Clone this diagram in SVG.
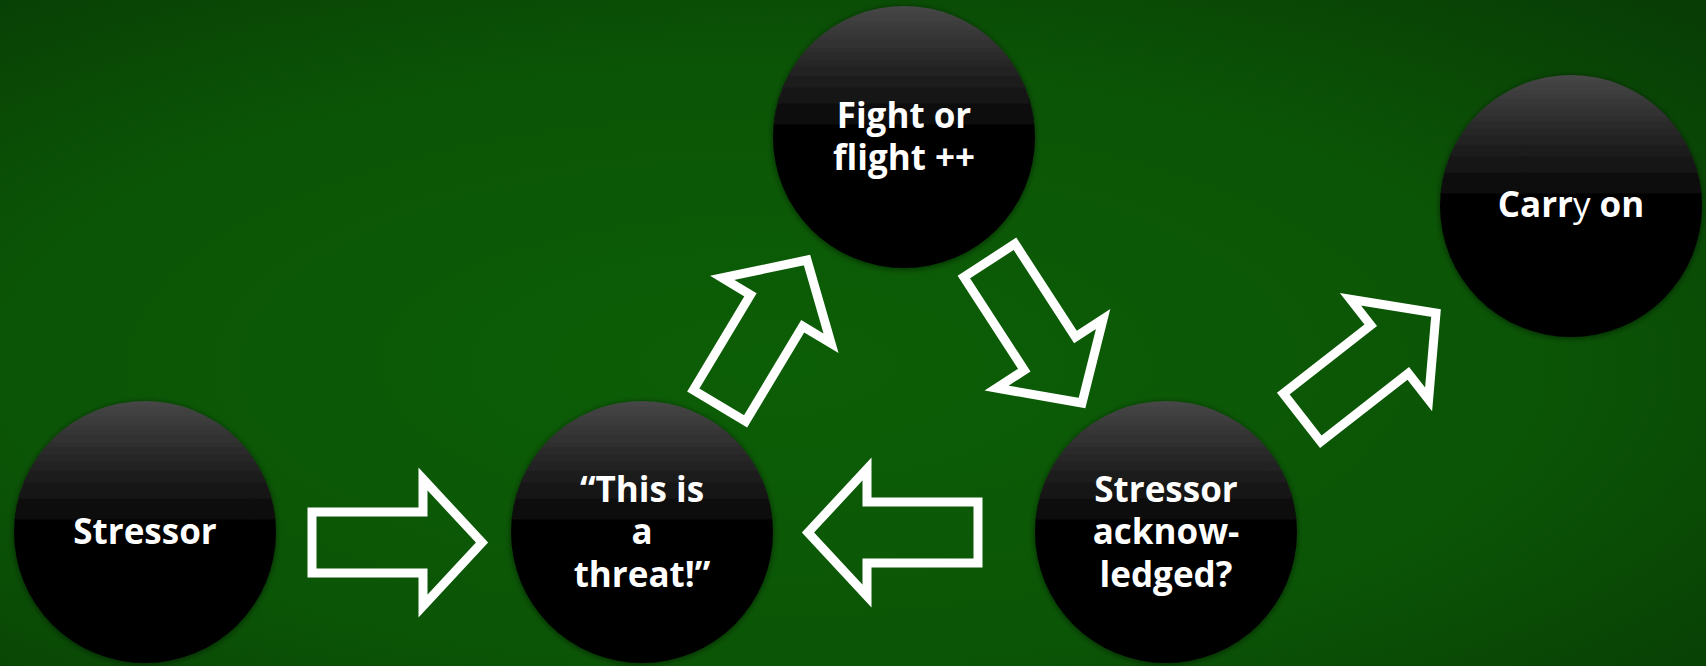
<svg xmlns="http://www.w3.org/2000/svg" xmlns:xlink="http://www.w3.org/1999/xlink" width="1706" height="666" viewBox="0 0 1706 666">
  <defs>
    <radialGradient id="bg" cx="45%" cy="55%" r="75%">
      <stop offset="0" stop-color="#0c5e06"/>
      <stop offset="0.6" stop-color="#0b5506"/>
      <stop offset="1" stop-color="#083e05"/>
    </radialGradient>
    <linearGradient id="ball" x1="0" y1="0" x2="0" y2="1">
      <stop offset="0" stop-color="#474747"/>
      <stop offset="0.22" stop-color="#262626"/>
      <stop offset="0.5" stop-color="#000000"/>
      <stop offset="1" stop-color="#000000"/>
    </linearGradient>
    <filter id="shadow" x="-10%" y="-10%" width="120%" height="120%">
      <feDropShadow dx="0" dy="1" stdDeviation="3" flood-color="#000" flood-opacity="0.55"/>
    </filter>
    <path id="arrow" d="M-170,-30.5 H-59 V-63.5 L0,0 L-59,63.5 V30.5 H-170 Z"/>
  </defs>
  <style>
    .node circle { fill: url(#ball); filter: url(#shadow); }
    .node text { font-family: "Open Sans", "Noto Sans", "DejaVu Sans", sans-serif; font-weight: 700; font-size: 35px; fill: #ffffff; text-anchor: middle; }
    .conn use { fill: none; stroke: #ffffff; stroke-width: 9; stroke-linejoin: miter; stroke-miterlimit: 10; }
  </style>

  <rect x="0" y="0" width="1706" height="666" fill="url(#bg)"/>

  <g id="connectors" class="conn">
    <use xlink:href="#arrow" href="#arrow" transform="translate(482,542.5)"/>
    <use xlink:href="#arrow" href="#arrow" transform="translate(808,532.5) rotate(180)"/>
    <use xlink:href="#arrow" href="#arrow" transform="translate(807,260) rotate(-59)"/>
    <use xlink:href="#arrow" href="#arrow" transform="translate(1082,403) rotate(57)"/>
    <use xlink:href="#arrow" href="#arrow" transform="translate(1436,313) rotate(-38)"/>
  </g>

  <g id="stressor" class="node">
    <circle cx="145" cy="532" r="131"/>
    <text x="145" y="544">Stressor</text>
  </g>

  <g id="threat" class="node">
    <circle cx="642" cy="532" r="131"/>
    <text x="642" y="502">“This is</text>
    <text x="642" y="544">a</text>
    <text x="642" y="587">threat!”</text>
  </g>

  <g id="fight" class="node">
    <circle cx="904" cy="137" r="131"/>
    <text x="904" y="128">Fight or</text>
    <text x="904" y="170">flight ++</text>
  </g>

  <g id="acknowledged" class="node">
    <circle cx="1166" cy="532" r="131"/>
    <text x="1166" y="502">Stressor</text>
    <text x="1166" y="544">acknow-</text>
    <text x="1166" y="587">ledged?</text>
  </g>

  <g id="carry" class="node">
    <circle cx="1571" cy="206" r="131"/>
    <text x="1571" y="217">Carr<tspan font-weight="400">y</tspan> on</text>
  </g>
</svg>
